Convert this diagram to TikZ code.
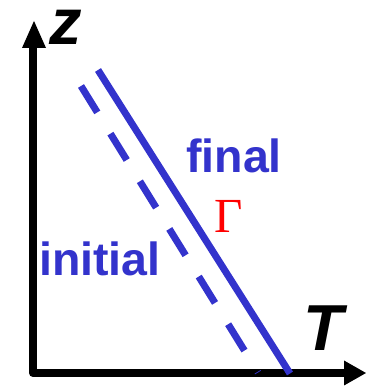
\documentclass[tikz,border=0pt]{standalone}
\usepackage{fontspec}
\setmainfont{Liberation Sans}
\newfontfamily\gammafont{Liberation Serif}
\definecolor{lineblue}{HTML}{3333CC}
\definecolor{gammared}{HTML}{FF0000}
\tikzset{
  axisline/.style={line width=8pt, line join=round, line cap=round, black},
  axishead/.style={fill=black, draw=none},
  solidline/.style={line width=7pt, lineblue},
  dashline/.style={line width=7pt, lineblue, dash pattern=on 31pt off 25pt},
  bluelabel/.style={inner sep=0pt, anchor=base west, text=lineblue, font=\fontsize{46.5}{50}\selectfont\bfseries},
  axislabel/.style={inner sep=0pt, anchor=base west, font=\fontsize{65}{70}\selectfont\bfseries\itshape},
}
\begin{document}
\begin{tikzpicture}[x=1pt,y=1pt]
\useasboundingbox (0,0) rectangle (366,386);
% axes
\coordinate (ztop) at (33,338);
\coordinate (origin) at (33,13);
\coordinate (tend) at (344,13);
\draw[axisline] (ztop) -- (origin) -- (tend);
\coordinate (ztip) at (34,365);
\coordinate (ttip) at (366,13);
\fill[axishead] (ztip) -- (22,338) -- (46,338) -- cycle;
\fill[axishead] (ttip) -- (344,25.5) -- (344,0.5) -- cycle;
% lines
\coordinate (s1) at (98,316);
\coordinate (s2) at (290,12.5);
\draw[solidline] (s1) -- (s2);
\coordinate (d1) at (81,300);
\coordinate (d2) at (258,13.5);
\draw[dashline] (d1) -- (d2);
% labels
\node[axislabel, text height=35pt] (zlab) at (49,341) {z};
\node[axislabel] (tlab) at (303,35) {T};
\node[bluelabel] (final) at (186,213) {final};
\node[bluelabel] (initial) at (39,110) {initial};
\node[inner sep=0pt, anchor=base west, text=gammared, font=\gammafont\fontsize{49}{54}\selectfont] (gamma) at (214,153) {Γ};
\end{tikzpicture}
\end{document}
